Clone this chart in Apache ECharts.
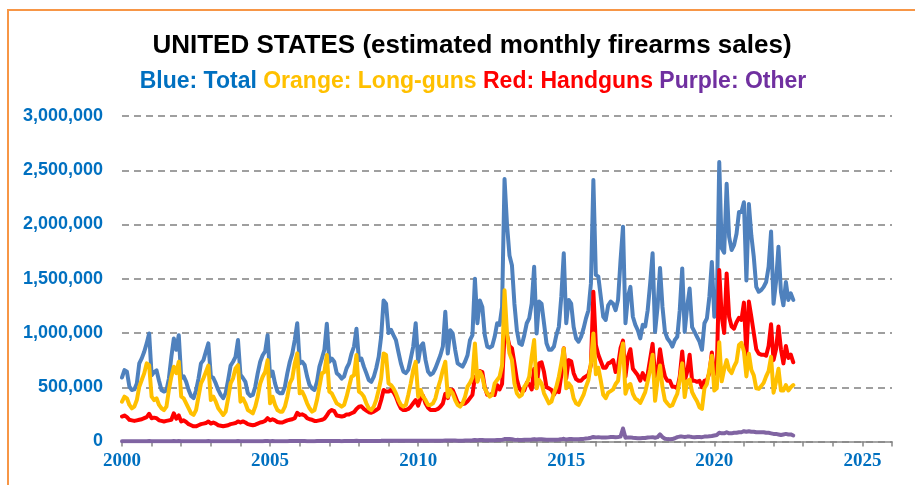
<!DOCTYPE html>
<html lang="en">
<head>
<meta charset="UTF-8">
<title>UNITED STATES firearms sales</title>
<script src="https://cdn.jsdelivr.net/npm/echarts@6/dist/echarts.min.js"></script>
<style>
    html, body { margin: 0; padding: 0; background: #fff; }
    #frame {
        position: absolute; left: 7px; top: 9px; width: 940px; height: 500px;
        border-left: 2px solid #F79646; border-top: 2px solid #F79646;
    }
    #main { position: absolute; left: 0; top: 0; width: 915px; height: 485px; }
</style>
</head>
<body>
<div id="frame"></div>
<div id="main"></div>
<script>
    // monthly estimates in thousands, Jan 2000 .. Sep 2022 (one row per year)
    var startYear = 2000;

    var total = [
        590, 658, 643, 505, 475, 480, 535, 720, 766, 827, 904, 996,
        610, 640, 655, 560, 475, 460, 470, 580, 780, 950, 845, 980,
        585, 600, 550, 475, 420, 400, 470, 580, 720, 750, 830, 905,
        600, 585, 535, 475, 430, 400, 445, 565, 700, 735, 780, 935,
        615, 585, 550, 445, 420, 430, 505, 630, 735, 795, 830, 980,
        600, 645, 535, 460, 445, 445, 505, 630, 735, 810, 935, 1090,
        720, 735, 705, 600, 520, 490, 475, 550, 690, 765, 845, 1085,
        735, 765, 735, 630, 610, 580, 600, 675, 720, 810, 875, 1040,
        750, 765, 690, 630, 565, 550, 595, 675, 780, 965, 1300, 1270,
        1000, 1030, 980, 935, 825, 720, 645, 630, 660, 765, 875, 1090,
        735, 875, 905, 750, 645, 615, 630, 675, 735, 795, 875, 1195,
        810, 1025, 995, 845, 720, 705, 690, 735, 795, 935, 980, 1500,
        1090, 1300, 1240, 980, 875, 865, 880, 965, 1090, 1075, 1240, 2420,
        2000, 1715, 1625, 1270, 1025, 905, 890, 980, 1090, 1135, 1270, 1610,
        995, 1290, 1270, 1090, 905, 845, 845, 875, 980, 1055, 1335, 1735,
        1090, 1305, 1270, 1055, 950, 920, 965, 1040, 1135, 1210, 1455, 2410,
        1535, 1520, 1335, 1150, 1120, 1255, 1290, 1270, 1210, 1305, 1670, 1980,
        1090, 1335, 1425, 1150, 1075, 1025, 950, 1075, 1060, 1210, 1455, 1735,
        1010, 1240, 1600, 1240, 1010, 950, 920, 875, 935, 965, 1210, 1595,
        1010, 1240, 1410, 1055, 1010, 965, 920, 845, 1090, 1135, 1335, 1655,
        1150, 1210, 2575, 1780, 1740, 2375, 1885, 1765, 1810, 1915, 2115, 2115,
        2205, 1485, 2190, 1900, 1700, 1425, 1380, 1395, 1425, 1470, 1610, 1935,
        1270, 1470, 1795, 1380, 1255, 1470, 1305, 1365, 1305
    ];

    var longGuns = [
        367, 413, 398, 337, 306, 321, 382, 505, 567, 628, 720, 704,
        413, 382, 398, 337, 306, 290, 321, 475, 597, 689, 630, 735,
        413, 398, 352, 306, 260, 245, 290, 413, 535, 582, 640, 700,
        382, 413, 367, 306, 275, 245, 275, 398, 535, 582, 674, 704,
        367, 398, 352, 290, 275, 260, 321, 413, 535, 597, 640, 750,
        352, 413, 337, 290, 275, 275, 321, 413, 535, 582, 720, 812,
        444, 460, 413, 352, 306, 275, 290, 382, 505, 628, 640, 797,
        460, 444, 398, 352, 337, 321, 337, 413, 505, 597, 610, 797,
        460, 444, 413, 352, 306, 290, 321, 382, 475, 582, 812, 797,
        536, 520, 490, 444, 382, 337, 321, 337, 429, 536, 658, 735,
        413, 475, 413, 382, 337, 337, 352, 398, 490, 567, 658, 735,
        413, 475, 444, 382, 337, 321, 352, 413, 505, 540, 590, 904,
        551, 644, 597, 490, 444, 413, 429, 536, 567, 597, 700, 1393,
        1000, 812, 751, 536, 444, 413, 429, 505, 536, 597, 781, 935,
        490, 567, 536, 444, 398, 352, 367, 444, 505, 597, 720, 858,
        490, 536, 505, 398, 352, 337, 383, 429, 505, 567, 720, 996,
        620, 680, 560, 430, 400, 450, 465, 480, 530, 560, 770, 904,
        440, 515, 530, 440, 395, 380, 355, 405, 455, 555, 660, 800,
        375, 560, 700, 500, 380, 350, 325, 335, 390, 440, 570, 720,
        410, 555, 570, 455, 410, 370, 315, 300, 490, 530, 660, 790,
        470, 490, 915, 555, 665, 750, 660, 630, 690, 735, 890, 910,
        830, 600, 810, 660, 610, 490, 485, 510, 540, 600, 650, 780,
        450, 550, 670, 470, 470, 520, 470, 500, 520
    ];

    var handguns = [
        230, 240, 225, 200, 195, 190, 195, 200, 205, 215, 225, 255,
        215, 220, 215, 195, 190, 185, 190, 195, 200, 260, 210, 240,
        185, 195, 180, 160, 150, 140, 140, 150, 160, 165, 170, 185,
        165, 175, 165, 150, 145, 140, 145, 150, 160, 165, 170, 185,
        175, 185, 175, 160, 155, 150, 155, 165, 175, 180, 190, 215,
        195, 205, 195, 180, 175, 175, 185, 195, 200, 205, 215, 265,
        245, 250, 240, 215, 205, 200, 190, 190, 195, 200, 210, 240,
        275, 290, 280, 240, 235, 230, 235, 250, 250, 260, 270, 300,
        320, 325, 300, 285, 270, 265, 275, 290, 305, 380, 475, 460,
        460, 475, 455, 413, 352, 306, 290, 290, 300, 321, 352, 382,
        330, 400, 420, 350, 310, 290, 290, 290, 300, 320, 350, 440,
        400, 480, 475, 420, 360, 345, 345, 350, 370, 400, 430, 597,
        560, 650, 640, 500, 430, 430, 440, 430, 520, 480, 530, 980,
        980, 880, 860, 720, 570, 490, 460, 470, 540, 530, 480, 670,
        500, 720, 730, 640, 500, 490, 475, 430, 470, 455, 610, 860,
        580, 750, 740, 630, 575, 560, 560, 585, 600, 615, 705, 1380,
        890, 800, 740, 680, 680, 720, 730, 750, 640, 700, 860, 930,
        600, 780, 850, 670, 640, 610, 560, 630, 570, 620, 760, 900,
        600, 640, 850, 700, 600, 560, 560, 505, 505, 490, 600, 830,
        560, 640, 800, 560, 560, 550, 560, 500, 560, 565, 630, 820,
        620, 660, 1580, 1150, 1000, 1549, 1150, 1060, 1040, 1100, 1140, 1120,
        1280, 800, 1290, 1150, 1000, 850, 810, 800, 800, 790, 880, 1080,
        750, 850, 1060, 850, 720, 880, 770, 800, 730
    ];

    var other = [
        3, 3, 3, 3, 2, 2, 2, 3, 3, 3, 3, 4,
        3, 3, 3, 3, 2, 2, 2, 3, 3, 4, 3, 4,
        3, 3, 3, 2, 2, 2, 2, 3, 3, 3, 3, 4,
        3, 3, 3, 2, 2, 2, 2, 3, 3, 3, 3, 4,
        3, 3, 3, 3, 2, 2, 3, 3, 3, 3, 4, 4,
        3, 4, 3, 3, 3, 3, 3, 3, 4, 4, 4, 5,
        4, 4, 4, 3, 3, 3, 3, 4, 4, 4, 4, 5,
        4, 5, 4, 4, 4, 3, 4, 4, 4, 5, 5, 6,
        5, 5, 5, 5, 4, 4, 4, 5, 5, 6, 8, 8,
        8, 8, 8, 7, 6, 6, 6, 6, 6, 7, 7, 8,
        7, 8, 8, 7, 6, 6, 6, 7, 7, 8, 8, 10,
        9, 10, 10, 9, 8, 8, 8, 9, 9, 10, 11, 13,
        12, 14, 14, 12, 11, 11, 11, 12, 13, 13, 15, 22,
        24, 22, 20, 17, 15, 14, 14, 15, 16, 17, 18, 22,
        18, 20, 20, 18, 16, 15, 15, 16, 17, 18, 20, 25,
        18, 22, 22, 20, 20, 20, 22, 24, 28, 30, 35, 42,
        38, 40, 38, 38, 36, 38, 42, 42, 40, 42, 45, 120,
        35, 38, 38, 34, 32, 30, 30, 32, 32, 36, 38, 40,
        35, 40, 65, 40, 25, 22, 20, 22, 30, 40, 45, 45,
        42, 45, 45, 42, 40, 42, 42, 40, 45, 45, 48, 50,
        55, 60, 80, 75, 75, 85, 75, 75, 80, 80, 85, 85,
        95, 90, 95, 90, 90, 85, 85, 85, 85, 80, 80, 75,
        70, 70, 65, 60, 65, 70, 65, 65, 55
    ];

    var yearLabels = [2000, 2005, 2010, 2015, 2020, 2025];

    function toPoints(arr) {
        return arr.map(function (v, i) { return [startYear + i / 12, v]; });
    }

    function lineSeries(name, color, arr) {
        return {
            name: name,
            type: 'line',
            showSymbol: false,
            symbol: 'none',
            smooth: false,
            data: toPoints(arr),
            lineStyle: { color: color, width: 4, join: 'round', cap: 'round' },
            itemStyle: { color: color }
        };
    }

    var chart = echarts.init(document.getElementById('main'));
    var option = {
        animation: false,
        backgroundColor: 'transparent',
        title: [
            {
                text: 'UNITED STATES (estimated monthly firearms sales)',
                left: 467, top: 28, textAlign: 'center',
                textStyle: { fontFamily: 'Liberation Sans', fontWeight: 'bold', fontSize: 26, color: '#000' }
            },
            {
                text: '{b|Blue: Total} {o|Orange: Long-guns} {r|Red: Handguns} {p|Purple: Other}',
                left: 468, top: 65, textAlign: 'center',
                textStyle: {
                    fontFamily: 'Liberation Sans', fontWeight: 'bold', fontSize: 23,
                    rich: {
                        b: { color: '#0070C0', fontFamily: 'Liberation Sans', fontWeight: 'bold', fontSize: 23 },
                        o: { color: '#FFC000', fontFamily: 'Liberation Sans', fontWeight: 'bold', fontSize: 23 },
                        r: { color: '#FF0000', fontFamily: 'Liberation Sans', fontWeight: 'bold', fontSize: 23 },
                        p: { color: '#7030A0', fontFamily: 'Liberation Sans', fontWeight: 'bold', fontSize: 23 }
                    }
                }
            }
        ],
        grid: { left: 122, right: 23, top: 116, bottom: 43.5 },
        xAxis: {
            type: 'value',
            min: 2000, max: 2026, interval: 1,
            axisLine: { lineStyle: { color: '#868686', width: 1.5 } },
            axisTick: { length: 5, lineStyle: { color: '#868686', width: 1.5 } },
            axisLabel: {
                formatter: function (v) { return yearLabels.indexOf(v) >= 0 ? String(v) : ''; },
                color: '#0070C0', fontFamily: 'Liberation Serif', fontWeight: 'bold', fontSize: 19, margin: 10
            },
            splitLine: { show: false }
        },
        yAxis: {
            type: 'value',
            min: 0, max: 3000, interval: 500,
            axisLine: { show: false },
            axisTick: { show: false },
            axisLabel: {
                formatter: function (v) { return v === 0 ? '0' : (v * 1000).toLocaleString('en-US'); },
                color: '#0070C0', fontFamily: 'Liberation Sans', fontWeight: 'bold', fontSize: 18, margin: 19
            },
            splitLine: { lineStyle: { color: '#808080', width: 1.5, type: [7, 5] } }
        },
        series: [
            lineSeries('Total', '#4F81BD', total),
            lineSeries('Handguns', '#FF0000', handguns),
            lineSeries('Long-guns', '#FFC000', longGuns),
            lineSeries('Other', '#8064A2', other)
        ]
    };
    chart.setOption(option);
</script>
</body>
</html>
